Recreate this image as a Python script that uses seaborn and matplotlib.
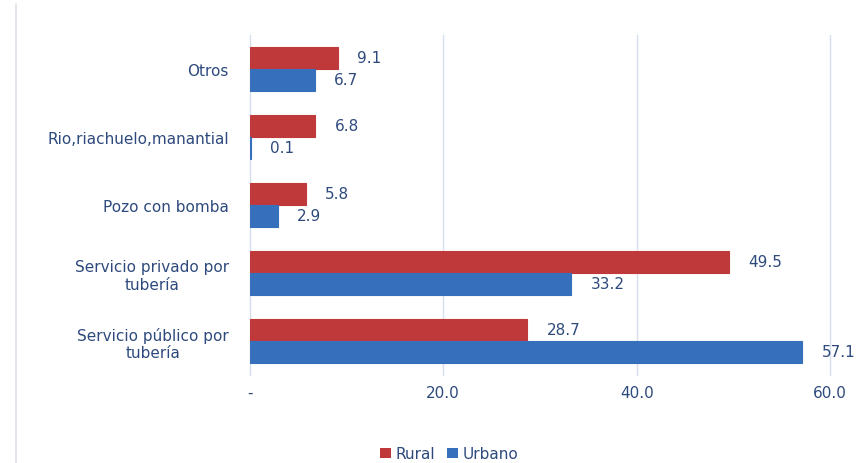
import pandas as pd
import matplotlib.pyplot as plt
import seaborn as sns
from matplotlib.lines import Line2D

categories = ["Otros", "Rio,riachuelo,manantial", "Pozo con bomba",
              "Servicio privado por\ntubería", "Servicio público por\ntubería"]
rural = [9.1, 6.8, 5.8, 49.5, 28.7]
urbano = [6.7, 0.1, 2.9, 33.2, 57.1]
series = ["Rural", "Urbano"]
xticks = [0, 20, 40, 60]
xtick_labels = ["-", "20.0", "40.0", "60.0"]

TEXT = "#2e4a7d"
colors = {"Rural": "#c0393a", "Urbano": "#3670bd"}

df = pd.DataFrame({
    "categoria": categories * 2,
    "serie": ["Rural"] * len(categories) + ["Urbano"] * len(categories),
    "valor": rural + urbano,
})

sns.set_style("white")
plt.rcParams["font.family"] = ["DejaVu Sans"]

fig = plt.figure(figsize=(8.64, 4.64), dpi=100)
ax = fig.add_axes([0.289, 0.19, 0.672, 0.733])

sns.barplot(data=df, y="categoria", x="valor", hue="serie", order=categories,
            hue_order=series, palette=colors, orient="h", width=0.64,
            saturation=1, linewidth=0, ax=ax, legend=True)

# the 0.1 bar is narrower than a pixel, give it a thin outline in its own colour
for cont, s in zip(ax.containers, series):
    for bar in cont:
        bar.set_edgecolor(colors[s])
        bar.set_linewidth(0.8)

for cont in ax.containers:
    ax.bar_label(cont, fmt="%.1f", padding=14, color=TEXT, fontsize=11)

ax.set_xlim(0, 60)
ax.set_xticks(xticks)
ax.set_xticklabels(xtick_labels)
ax.xaxis.grid(True, color="#d5e0ee", linewidth=1)
for gl in ax.get_xgridlines():
    gl.set_clip_on(False)
ax.set_axisbelow(True)
sns.despine(ax=ax, left=True, bottom=True)
ax.tick_params(axis="both", length=0, colors=TEXT, labelsize=11)
ax.tick_params(axis="x", pad=7)
ax.tick_params(axis="y", pad=15)
ax.set_xlabel("")
ax.set_ylabel("")
for lbl in ax.get_yticklabels():
    lbl.set_multialignment("center")

handles, labels = ax.get_legend_handles_labels()
ax.legend_.remove()
fig.legend(handles, labels, loc="center", bbox_to_anchor=(0.52, 0.02), ncol=2,
           frameon=False, fontsize=11, labelcolor=TEXT, handlelength=0.7,
           handleheight=0.7, handletextpad=0.3, columnspacing=0.8)

fig.add_artist(Line2D([0.018, 0.018], [0.0, 0.99], transform=fig.transFigure,
                      color="#dde3ea", linewidth=1.2))

fig.savefig("out.png", dpi=100)
